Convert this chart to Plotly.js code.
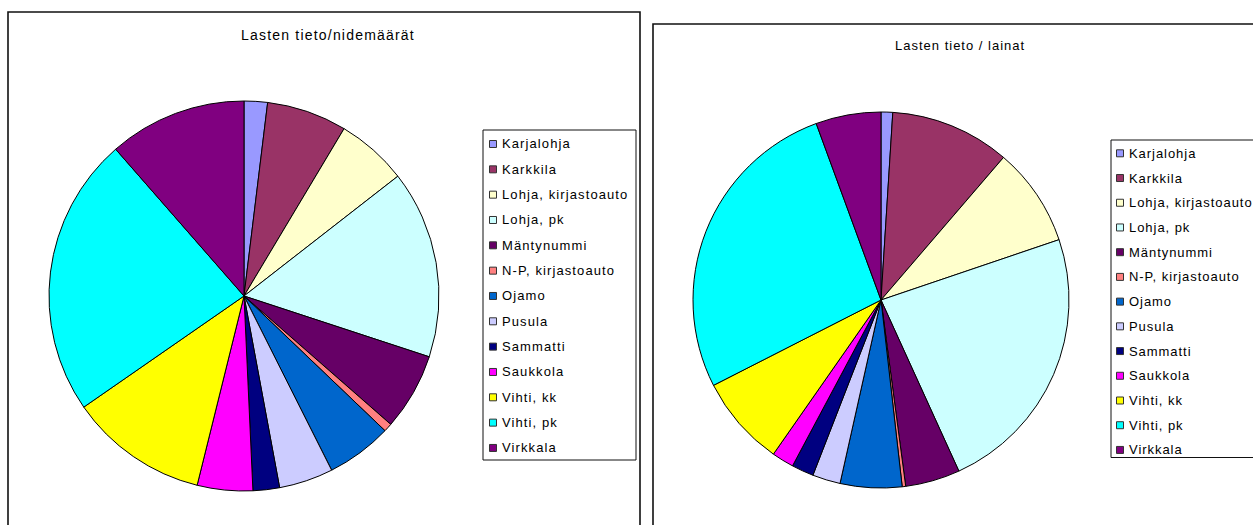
<!DOCTYPE html>
<html><head><meta charset="utf-8">
<script src="https://cdn.plot.ly/plotly-3.0.1.min.js"></script>
<style>html,body{margin:0;padding:0;background:#fff;overflow:hidden}</style>
</head><body><div id="chart" style="width:1253px;height:525px"></div>
<script>
// ---- data ----
const labels = ["Karjalohja","Karkkila","Lohja, kirjastoauto","Lohja, pk","Mäntynummi","N-P, kirjastoauto","Ojamo","Pusula","Sammatti","Saukkola","Vihti, kk","Vihti, pk","Virkkala"];
const colors = ["#9999FF","#993366","#FFFFCC","#CCFFFF","#660066","#FF8080","#0066CC","#CCCCFF","#000080","#FF00FF","#FFFF00","#00FFFF","#800080"];
const nidemaarat = [1.94,6.65,5.9,15.6,6.4,0.7,5.45,4.5,2.2,4.6,11.5,23.25,11.45];
const lainat = [1.0,10.3,8.5,23.4,4.7,0.3,5.3,2.4,1.9,1.9,7.8,26.9,5.6];
const titles = ["Lasten tieto/nidemäärät","Lasten tieto / lainat"];

// ---- layout helpers ----
const W = 1253, H = 525;
const fx = x => x / W;
const fy = y => 1 - y / H;
const FONT = "Liberation Sans, Arial, sans-serif";
const spaced = (t, ls) => '<span style="letter-spacing:' + ls + 'px">' + t + '</span>';

const panels = [
  {values: nidemaarat, cx: 244, cy: 296, r: 195, title: titles[0], tx: 328, ty: 35, tsize: 14, tls: 1.2,
   box: [8, 12, 640, 560], leg: [483, 130, 636, 460], sqx: 489.5, txtx: 502, y0: 144, dy: 25.33, ls: 1.1},
  {values: lainat, cx: 881, cy: 300, r: 188, title: titles[1], tx: 960, ty: 45, tsize: 13, tls: 1,
   box: [653, 24, 1290, 560], leg: [1111, 140, 1290, 457.5], sqx: 1116.5, txtx: 1129, y0: 153.3, dy: 24.72, ls: 0.95}
];

const traces = [];
const shapes = [];
const annotations = [];

panels.forEach(p => {
  shapes.push({type: 'rect', xref: 'paper', yref: 'paper', layer: 'below',
    x0: fx(p.box[0]), x1: fx(p.box[2]), y0: fy(p.box[1]), y1: fy(p.box[3]),
    line: {color: '#111', width: 1.6}, fillcolor: 'rgba(0,0,0,0)'});
  traces.push({
    type: 'pie', labels: labels, values: p.values, sort: false, direction: 'clockwise', rotation: 0,
    textinfo: 'none', hoverinfo: 'label+percent', showlegend: false,
    marker: {colors: colors, line: {color: '#000', width: 1}},
    domain: {x: [fx(p.cx - p.r), fx(p.cx + p.r)], y: [fy(p.cy + p.r), fy(p.cy - p.r)]}
  });
  annotations.push({xref: 'paper', yref: 'paper', x: fx(p.tx), y: fy(p.ty), xanchor: 'center', yanchor: 'middle',
    showarrow: false, text: spaced(p.title, p.tls), font: {family: FONT, size: p.tsize, color: '#000'}});
  // legend
  shapes.push({type: 'rect', xref: 'paper', yref: 'paper',
    x0: fx(p.leg[0]), x1: fx(p.leg[2]), y0: fy(p.leg[1]), y1: fy(p.leg[3]),
    line: {color: '#111', width: 1}, fillcolor: '#fff', layer: 'above'});
  labels.forEach((lab, i) => {
    const yc = p.y0 + i * p.dy;
    shapes.push({type: 'rect', xref: 'paper', yref: 'paper',
      x0: fx(p.sqx), x1: fx(p.sqx + 7), y0: fy(yc + 3.5), y1: fy(yc - 3.5),
      line: {color: '#333', width: 1}, fillcolor: colors[i], layer: 'above'});
    annotations.push({xref: 'paper', yref: 'paper', x: fx(p.txtx - 2), y: fy(yc), xanchor: 'left', yanchor: 'middle',
      showarrow: false, text: spaced(lab, p.ls), font: {family: FONT, size: 13, color: '#000'}});
  });
});

const layout = {
  width: W, height: H, margin: {l: 0, r: 0, t: 0, b: 0},
  paper_bgcolor: '#fff', plot_bgcolor: '#fff', showlegend: false,
  shapes: shapes, annotations: annotations
};
Plotly.newPlot('chart', traces, layout, {displayModeBar: false, staticPlot: true});
</script>
</body></html>
